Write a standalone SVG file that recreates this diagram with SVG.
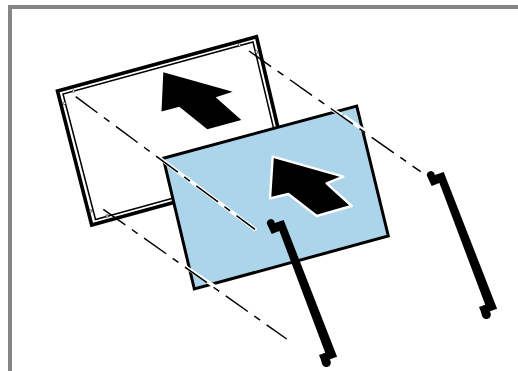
<svg xmlns="http://www.w3.org/2000/svg" xmlns:xlink="http://www.w3.org/1999/xlink" width="518" height="371" viewBox="0 0 518 371">
<style>
.dash{fill:none;stroke:#000;stroke-width:1.500;stroke-dasharray:27 8 7 8}
.halo{fill:none;stroke:#fff;stroke-width:3.600;stroke-linecap:round}
.pin{fill:#fff;stroke:#000;stroke-width:.6}
</style>
<defs>
<path id="bar" d="M283.700 220L337.100 356.700L330 359.300L330.500 361A4.400 4.400 0 0 1 322.200 364.200L321 360L319 355L325.200 352.700L279.400 231L271.700 234L267 224A4 4 0 0 1 274 220.500L274.800 223Z" fill="#000"/>
</defs>
<rect width="518" height="371" fill="#fff"/>
<path d="M10 371V7H518" fill="none" stroke="#858585" stroke-width="4"/>
<g id="back-frame">
<path d="M278.500 130L256.500 36.700L57.500 91L91.700 225L190 198" fill="none" stroke="#000" stroke-width="3.600"/>
<path d="M274 130L253 42L63 94L95.500 219.500L190 193.500" fill="none" stroke="#000" stroke-width="1.500"/>
<circle class="pin" cx="73.500" cy="91" r="1.300"/>
<circle class="pin" cx="64.300" cy="103.300" r="1.300"/>
<circle class="pin" cx="90.800" cy="211" r="1.300"/>
<circle class="pin" cx="107" cy="216" r="1.300"/>
<circle class="pin" cx="239.500" cy="45" r="1.300"/>
<circle class="pin" cx="256.500" cy="52" r="1.300"/>
<path d="M161.500 111.500L163.300 72.300L232.700 91.700L215.700 97.300L241.300 120L207.300 129.300L179.300 106.700Z" fill="#000"/>
</g>
<g id="front-panel">
<path d="M163.300 158.300L356.700 106L388.300 236L194.300 289Z" fill="#acd5eb" stroke="#000" stroke-width="3"/>
<path d="M270 198.300L272.700 156.700L343.300 176.700L326.700 183.300L351.700 206L316.700 216L288.300 194Z" fill="#000" stroke="#fff" stroke-width="2.400" stroke-linejoin="round"/>
</g>
<g id="connectors">
<path class="halo" d="M158.500 157.300L255 229.300M186.700 267.700L216 287.300M333.500 110.500L340.500 114M345 116.700L366.500 132.300"/>
<path class="dash" d="M75.700 96.700L255 229.300"/>
<path class="dash" d="M103.300 209.300L286.700 339"/>
<path class="dash" d="M249 51L420.700 171.700"/>
</g>
<g id="bar-front"><use xlink:href="#bar" href="#bar"/></g>
<g id="bar-back"><use xlink:href="#bar" href="#bar" x="160" y="-48"/></g>
</svg>
